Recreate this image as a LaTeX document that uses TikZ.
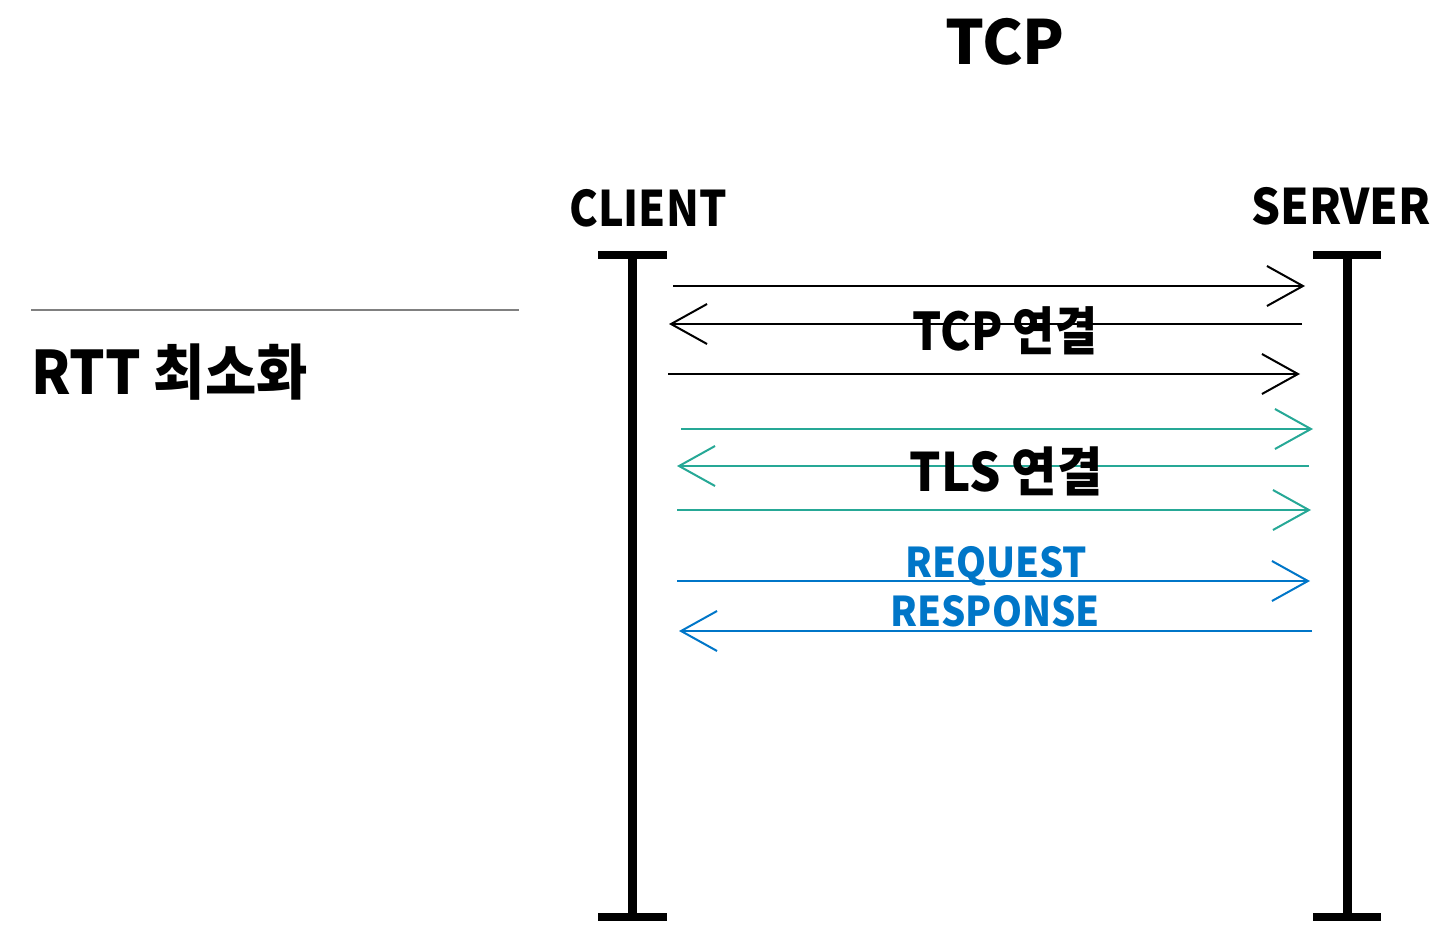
\documentclass[tikz,border=0pt]{standalone}
\usepackage{fontspec}
\setmainfont{Noto Sans CJK KR}[BoldFont={* Bold}]
\newfontfamily\heavy{Noto Sans CJK KR Black}[FakeStretch=0.88]
\newfontfamily\heavymid{Noto Sans CJK KR Black}[FakeStretch=0.93]
\newfontfamily\heavywide{Noto Sans CJK KR Black}
\usepackage{xcolor}
\usetikzlibrary{arrows.meta,positioning}

\definecolor{tlsteal}{RGB}{38,168,150}
\definecolor{httpblue}{RGB}{0,118,200}

\begin{document}
\begin{tikzpicture}[
  x=1pt, y=-1pt,
  txt/.style={font=\heavy\fontsize{#1}{#1}\selectfont, inner sep=0pt, anchor=base},
  mtxt/.style={txt=#1, font=\heavymid\fontsize{#1}{#1}\selectfont},
  life/.style={line width=9pt},
  endbar/.style={line width=8pt},
  msg/.style={-{Straight Barb[length=36pt,width=40pt]}, line width=2pt}
]
\useasboundingbox (0,0) rectangle (1443,929);

% titles
\node[txt=61, font=\heavywide\fontsize{61}{61}\selectfont] (tcp) at (1005,64) {TCP};
\node[txt=49] (client) at (648,226) {CLIENT};
\node[mtxt=49] (server) at (1341,224) {SERVER};
\node[mtxt=60, anchor=base west] (rtt) at (31,394) {RTT 최소화};

\coordinate (rule-l) at (31,310);
\coordinate (rule-r) at (519,310);
\draw[gray, line width=1.5pt] (rule-l) -- (rule-r);

% lifelines
\coordinate (c-top) at (632,255);
\coordinate (c-bot) at (632,917);
\coordinate (s-top) at (1347,255);
\coordinate (s-bot) at (1347,917);
\draw[life] (c-top) -- (c-bot);
\draw[life] (s-top) -- (s-bot);
\draw[endbar] ([xshift=-34pt]c-top) -- ([xshift=35pt]c-top);
\draw[endbar] ([xshift=-34pt]c-bot) -- ([xshift=35pt]c-bot);
\draw[endbar] ([xshift=-34pt]s-top) -- ([xshift=34pt]s-top);
\draw[endbar] ([xshift=-34pt]s-bot) -- ([xshift=34pt]s-bot);

% TCP handshake
\coordinate (syn-c) at (673,286);   \coordinate (syn-s) at (1305,286);
\coordinate (ack1-s) at (1302,324); \coordinate (ack1-c) at (669,324);
\coordinate (ack2-c) at (668,374);  \coordinate (ack2-s) at (1300,374);
\draw[msg] (syn-c) -- (syn-s);
\draw[msg] (ack1-s) -- (ack1-c);
\draw[msg] (ack2-c) -- (ack2-s);
\node[txt=52] (tcplbl) at (1005,350) {TCP 연결};

% TLS handshake
\coordinate (tls1-c) at (681,429);  \coordinate (tls1-s) at (1313,429);
\coordinate (tls2-s) at (1309,466); \coordinate (tls2-c) at (677,466);
\coordinate (tls3-c) at (677,510);  \coordinate (tls3-s) at (1311,510);
\draw[msg, tlsteal] (tls1-c) -- (tls1-s);
\draw[msg, tlsteal] (tls2-s) -- (tls2-c);
\draw[msg, tlsteal] (tls3-c) -- (tls3-s);
\node[mtxt=53] (tlslbl) at (1006,491) {TLS 연결};

% HTTP
\coordinate (req-c) at (677,581);  \coordinate (req-s) at (1310,581);
\coordinate (res-s) at (1312,631); \coordinate (res-c) at (679,631);
\draw[msg, httpblue] (req-c) -- (req-s);
\draw[msg, httpblue] (res-s) -- (res-c);
\node[mtxt=41, httpblue] (reqlbl) at (996,577) {REQUEST};
\node[mtxt=41, httpblue] (reslbl) at (995,626) {RESPONSE};
\end{tikzpicture}
\end{document}
